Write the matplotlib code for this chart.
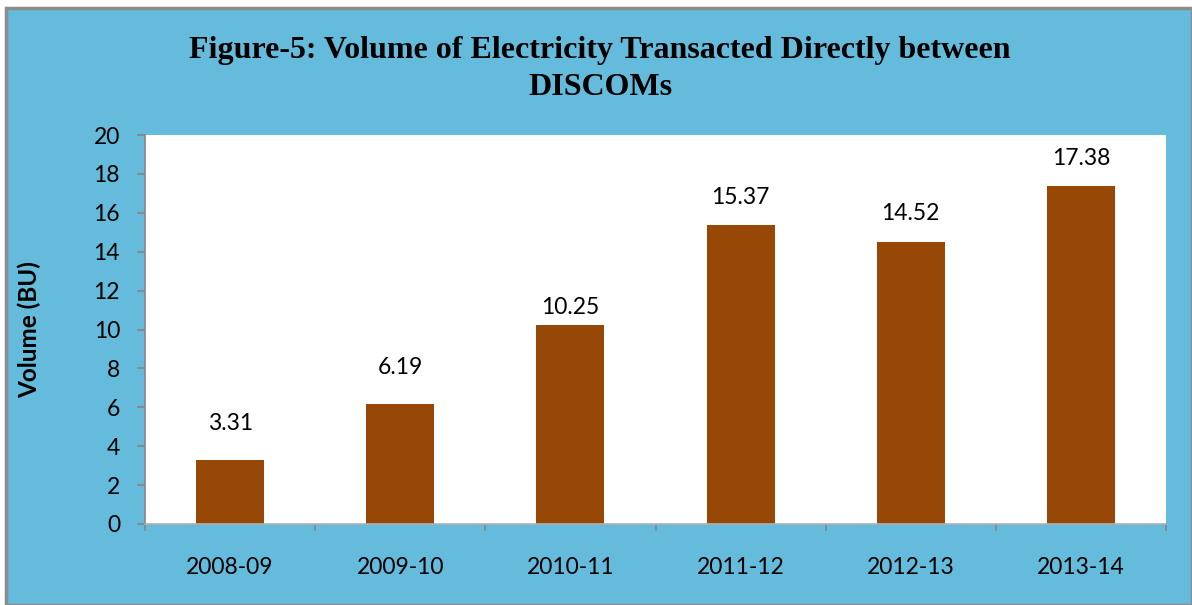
import matplotlib
matplotlib.use("Agg")
import matplotlib.pyplot as plt
from matplotlib.patches import Rectangle
import numpy as np

categories = ["2008-09", "2009-10", "2010-11", "2011-12", "2012-13", "2013-14"]
volumes = [3.31, 6.19, 10.25, 15.37, 14.52, 17.38]
y_ticks = [0, 2, 4, 6, 8, 10, 12, 14, 16, 18, 20]
title = "Figure-5: Volume of Electricity Transacted Directly between\nDISCOMs"
y_label = "Volume (BU)"

label_offsets_pt = [26, 26, 12, 20, 20, 20]

BG = "#65BBDB"
BAR = "#974706"

fig = plt.figure(figsize=(11.92, 6.05), dpi=100)
fig.patch.set_facecolor("white")
# chart area background with gray border
bg = Rectangle((6/1192, 0), 1 - 6/1192, 1 - 8/605, transform=fig.transFigure,
               facecolor=BG, edgecolor="#8C8C8C", linewidth=2.5, zorder=-10)
fig.patches.append(bg)

ax = fig.add_axes([145/1192, 1 - 524/605, (1166-145)/1192, (524-135)/605])
ax.set_zorder(5)
ax.set_facecolor("white")

x = np.arange(len(categories))
bars = ax.bar(x, volumes, width=0.4, color=BAR, zorder=2)
ax.set_xlim(-0.5, len(categories) - 0.5)
ax.set_ylim(0, 20)
ax.set_yticks(y_ticks)
ax.set_yticklabels([str(t) for t in y_ticks], fontfamily="Lato", fontsize=16.5)

ax.set_xticks(x)
ax.set_xticklabels(categories, fontfamily="Lato", fontsize=16.5)
ax.tick_params(axis="x", which="major", length=0, pad=24)
ax.set_xticks(np.arange(len(categories) + 1) - 0.5, minor=True)
ax.tick_params(axis="x", which="minor", length=5, color="#868686", width=1.2)
ax.tick_params(axis="y", length=6, color="#868686", width=1.2, pad=12)

for s in ["top", "right"]:
    ax.spines[s].set_visible(False)
ax.spines["left"].set_color("#868686")
ax.spines["left"].set_linewidth(1.2)
ax.spines["bottom"].set_color("#B0B0B0")
ax.spines["bottom"].set_linewidth(1.2)

for xi, v, off in zip(x, volumes, label_offsets_pt):
    ax.annotate(f"{v:.2f}", (xi, v), xytext=(0, off), textcoords="offset points",
                ha="center", va="center", fontfamily="Lato", fontsize=16.5)

ax.set_ylabel(y_label, fontfamily="Lato", fontweight="bold", fontsize=17.5)
ax.yaxis.set_label_coords(-104/1021, 0.5)

fig.text(600/1192, 1 - 69/605, title, ha="center", va="center", fontfamily="Liberation Serif",
         fontweight="bold", fontsize=23, linespacing=1.35, zorder=6)

fig.savefig("out.png", dpi=100, facecolor=fig.get_facecolor())
